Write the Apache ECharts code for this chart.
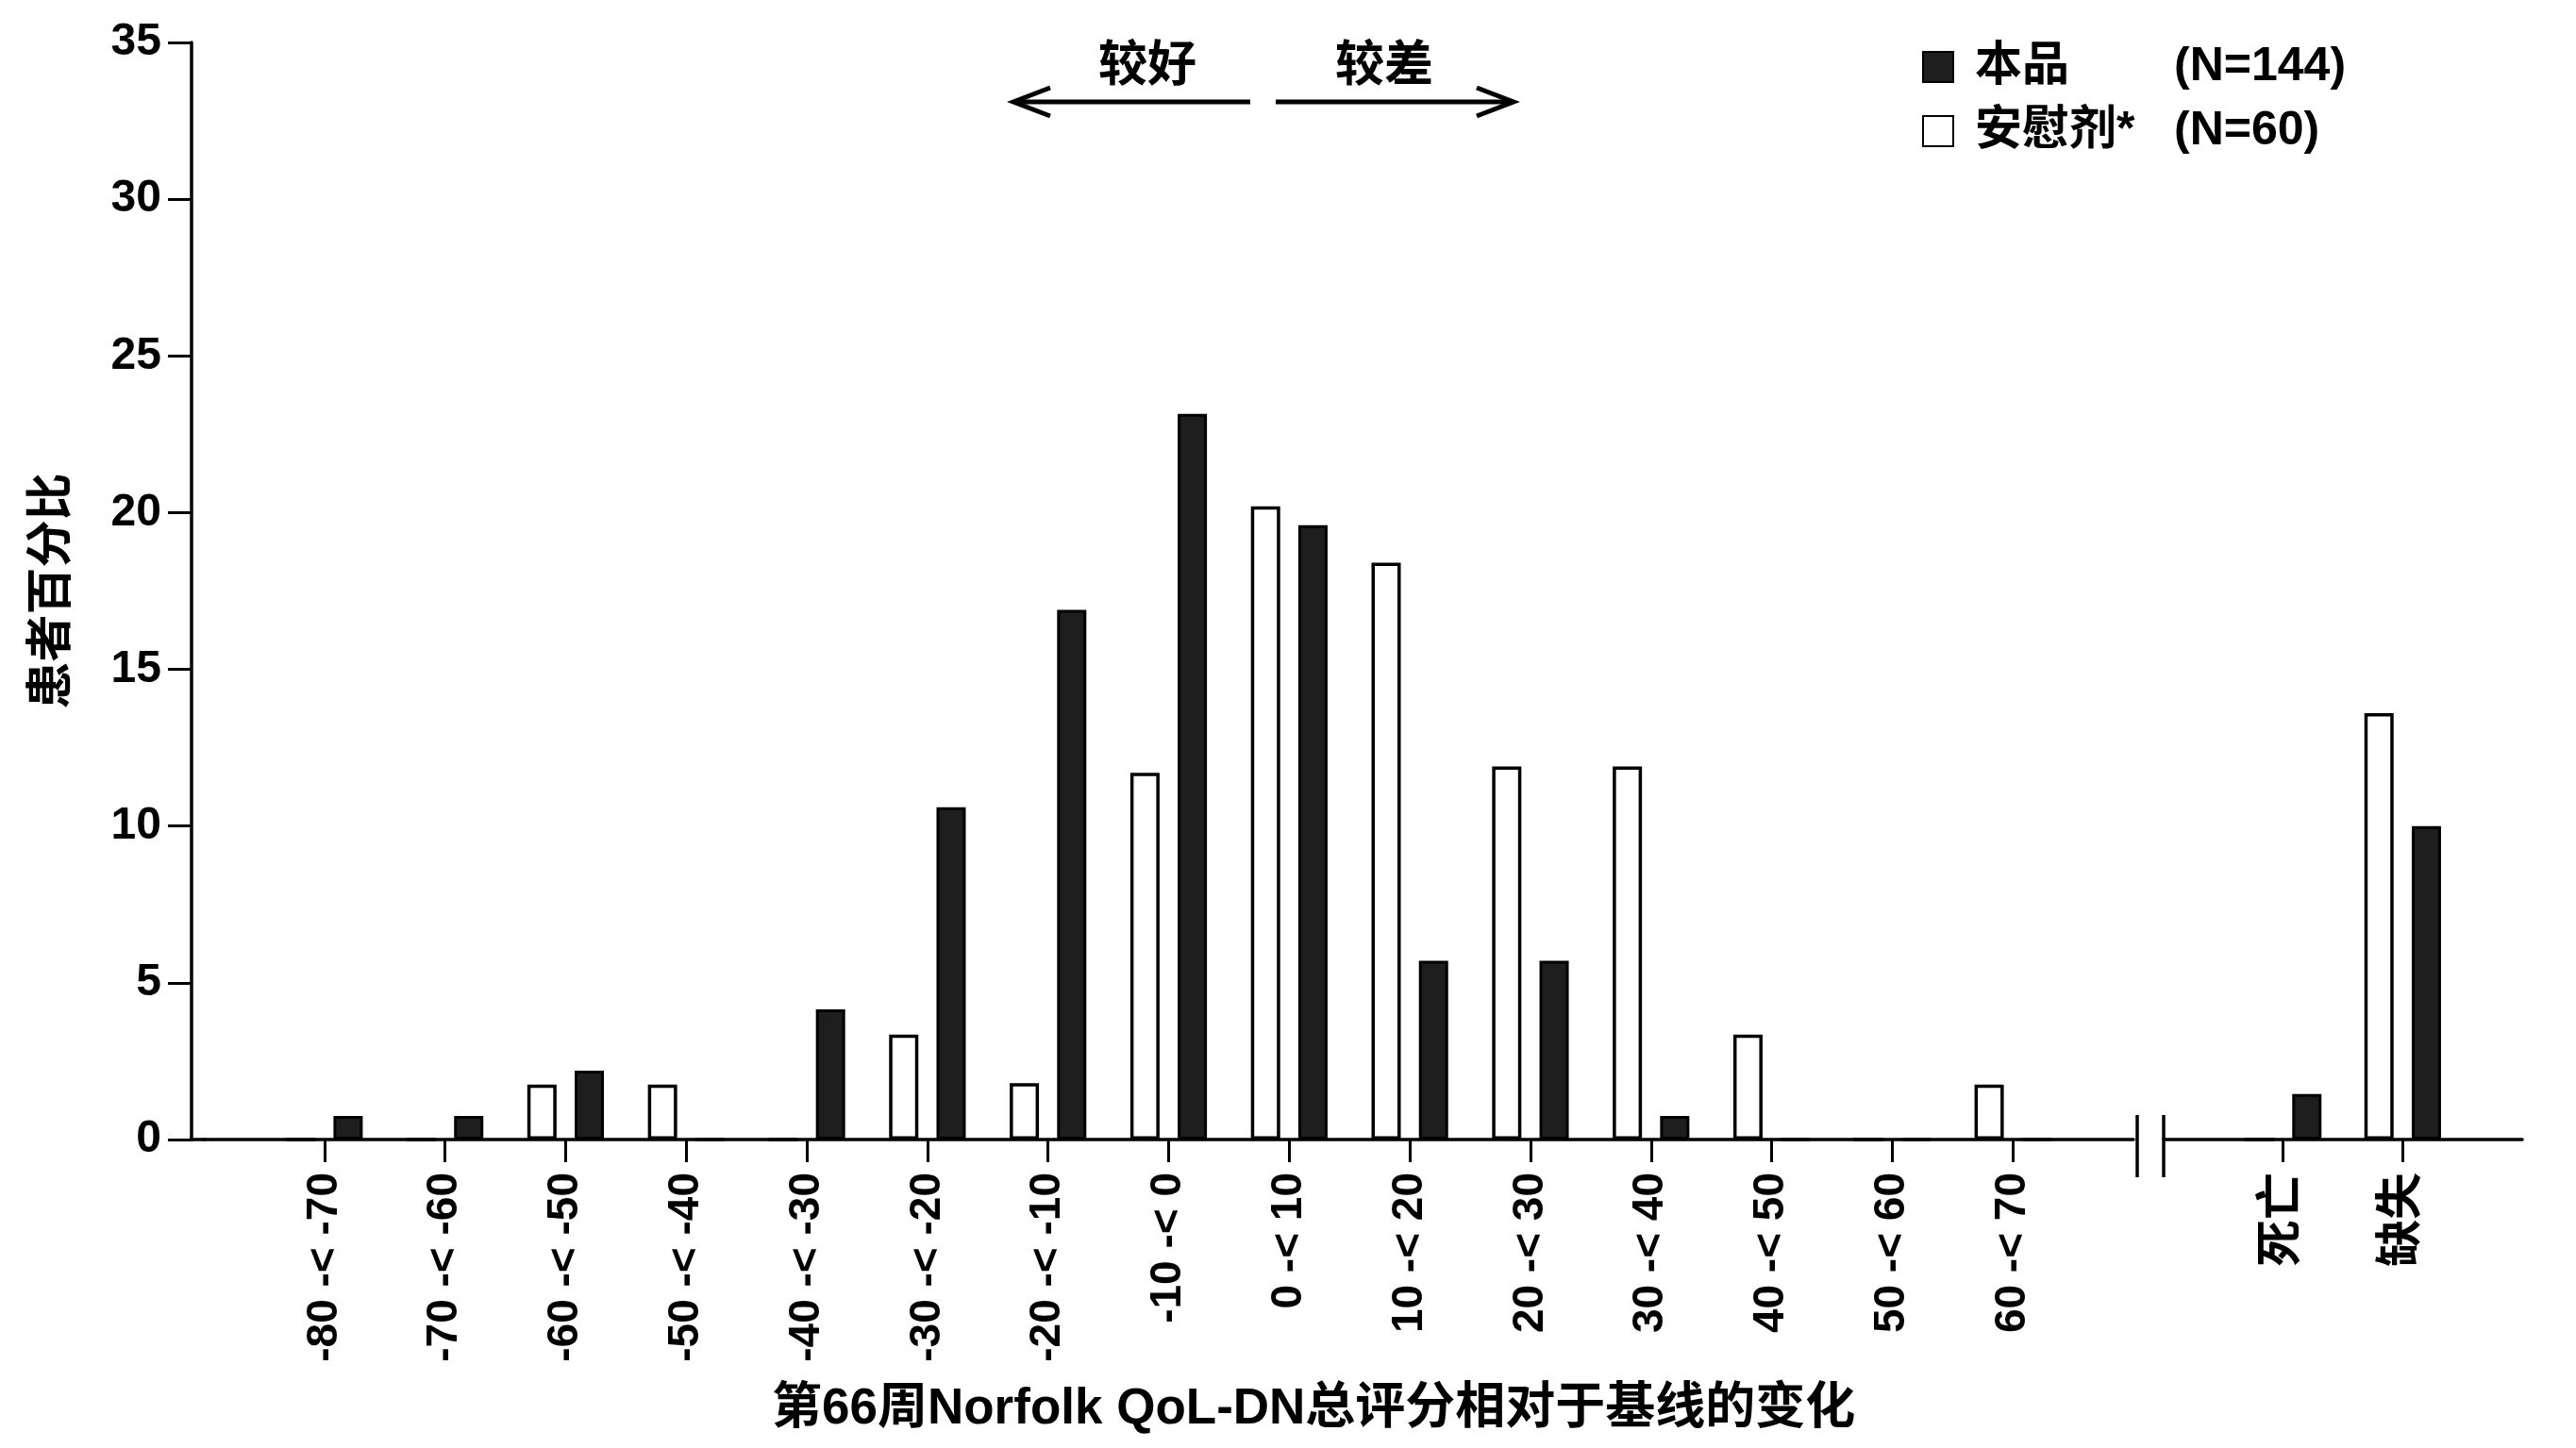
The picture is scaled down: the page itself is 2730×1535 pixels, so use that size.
<!DOCTYPE html>
<html>
<head>
<meta charset="utf-8">
<title>Norfolk QoL-DN 变化分布</title>
<script src="https://cdn.jsdelivr.net/npm/echarts@6/dist/echarts.min.js"></script>
<style>
  html, body { margin: 0; padding: 0; background: #fff; }
  #chart { width: 2730px; height: 1535px; }
</style>
</head>
<body>
<div id="chart"></div>
<script>
// range categories (change from baseline at week 66)
const rangeLabels = [
  '-80 -< -70', '-70 -< -60', '-60 -< -50', '-50 -< -40', '-40 -< -30',
  '-30 -< -20', '-20 -< -10', '-10 -< 0', '0 -< 10', '10 -< 20',
  '20 -< 30', '30 -< 40', '40 -< 50', '50 -< 60', '60 -< 70'
]
const placeboRange = [0, 0, 1.75, 1.75, 0, 3.35, 1.8, 11.7, 20.2, 18.4, 11.9, 11.9, 3.35, 0, 1.75]
const productRange = [0.75, 0.75, 2.2, 0, 4.15, 10.6, 16.9, 23.15, 19.6, 5.7, 5.7, 0.75, 0, 0, 0]

// after the axis break
const outcomeLabels = ['死亡', '缺失']
const placeboOutcome = [0, 13.6]
const productOutcome = [1.45, 10.0]

const yMax = 35
const yStep = 5

const legendCounts = { '本品': '(N=144)', '安慰剂*': '(N=60)' }

const FONT = '"Liberation Sans", "Noto Sans CJK SC", sans-serif'
const INK = '#000'

// blank category at each end so ticks sit on the categories
const padCats = (arr) => ['', ...arr, '']
const padData = (arr) => ['-', ...arr, '-']

const chart = echarts.init(document.getElementById('chart'))

const catAxis = (gridIndex, data, labelSize) => ({
  type: 'category',
  gridIndex,
  data: padCats(data),
  boundaryGap: false,
  axisLine: { show: true, lineStyle: { color: INK, width: 3.5 } },
  axisTick: {
    show: true,
    length: 24,
    interval: (i, v) => v !== '',
    lineStyle: { color: INK, width: 3 }
  },
  axisLabel: {
    interval: 0,
    rotate: 90,
    margin: 35,
    color: INK,
    fontSize: labelSize,
    fontWeight: 'bold',
    fontFamily: FONT
  },
  splitLine: { show: false }
})

const whiteBar = {
  color: '#fff',
  borderColor: INK,
  borderWidth: 3.5
}
const blackBar = {
  color: '#1e1e1e',
  borderColor: INK,
  borderWidth: 3
}

const barCommon = { type: 'bar', barWidth: 31, barGap: '62%' }

const option = {
  animation: false,
  backgroundColor: '#fff',
  title: {
    text: '第66周Norfolk QoL-DN总评分相对于基线的变化',
    left: 818,
    top: 1468,
    padding: 0,
    textStyle: { color: INK, fontSize: 53, fontWeight: 'bold', fontFamily: FONT }
  },
  legend: {
    data: ['本品', '安慰剂*'],
    orient: 'vertical',
    left: 2037,
    top: 46,
    padding: 0,
    itemWidth: 32,
    itemHeight: 32,
    itemGap: 18,
    icon: 'rect',
    selectedMode: false,
    formatter: (name) => `{n|${name}}{c|${legendCounts[name]}}`,
    textStyle: {
      color: INK,
      rich: {
        n: { fontSize: 50, fontWeight: 'bold', fontFamily: FONT, width: 211, padding: [0, 0, 0, 18], lineHeight: 56 },
        c: { fontSize: 50, fontWeight: 'bold', fontFamily: FONT, lineHeight: 56 }
      }
    }
  },
  grid: [
    { left: 216, top: 45, width: 2045, bottom: 327 },
    { left: 2293, top: 45, width: 380, bottom: 327 }
  ],
  xAxis: [
    catAxis(0, rangeLabels, 46),
    catAxis(1, outcomeLabels, 50)
  ],
  yAxis: [
    {
      type: 'value',
      gridIndex: 0,
      min: 0,
      max: yMax,
      interval: yStep,
      offset: 13,
      name: '患者百分比',
      nameLocation: 'middle',
      nameGap: 122,
      nameTextStyle: { color: INK, fontSize: 50, fontWeight: 'bold', fontFamily: FONT },
      axisLine: { show: true, lineStyle: { color: INK, width: 3.5 } },
      axisTick: { show: true, length: 25, lineStyle: { color: INK, width: 3 } },
      axisLabel: { margin: 32, color: INK, fontSize: 48, fontWeight: 'bold', fontFamily: FONT },
      splitLine: { show: false }
    },
    {
      type: 'value',
      gridIndex: 1,
      min: 0,
      max: yMax,
      interval: yStep,
      show: false,
      splitLine: { show: false }
    }
  ],
  series: [
    { ...barCommon, name: '安慰剂*', xAxisIndex: 0, yAxisIndex: 0, itemStyle: whiteBar, data: padData(placeboRange) },
    { ...barCommon, name: '本品', xAxisIndex: 0, yAxisIndex: 0, itemStyle: blackBar, data: padData(productRange) },
    { ...barCommon, name: '安慰剂*', xAxisIndex: 1, yAxisIndex: 1, itemStyle: whiteBar, data: padData(placeboOutcome) },
    { ...barCommon, name: '本品', xAxisIndex: 1, yAxisIndex: 1, itemStyle: blackBar, data: padData(productOutcome) }
  ],
  graphic: [
    // close the corner between the offset y axis and the x axis
    { type: 'line', shape: { x1: 201, y1: 1208, x2: 218, y2: 1208 }, style: { stroke: INK, lineWidth: 3.5 } },
    // axis break marks
    { type: 'line', shape: { x1: 2265, y1: 1182, x2: 2265, y2: 1248 }, style: { stroke: INK, lineWidth: 3.5 } },
    { type: 'line', shape: { x1: 2293, y1: 1182, x2: 2293, y2: 1248 }, style: { stroke: INK, lineWidth: 3.5 } },
    // better / worse arrows
    { type: 'line', shape: { x1: 1074, y1: 108, x2: 1325, y2: 108 }, style: { stroke: INK, lineWidth: 5 } },
    { type: 'polyline', shape: { points: [[1113, 93], [1074, 108], [1113, 123]] }, style: { stroke: INK, fill: null, lineWidth: 5 } },
    { type: 'line', shape: { x1: 1352, y1: 108, x2: 1604, y2: 108 }, style: { stroke: INK, lineWidth: 5 } },
    { type: 'polyline', shape: { points: [[1565, 93], [1604, 108], [1565, 123]] }, style: { stroke: INK, fill: null, lineWidth: 5 } },
    {
      type: 'text', x: 1216, y: 72,
      style: { text: '较好', fill: INK, fontSize: 52, fontWeight: 'bold', fontFamily: FONT, align: 'center', verticalAlign: 'middle' }
    },
    {
      type: 'text', x: 1467, y: 72,
      style: { text: '较差', fill: INK, fontSize: 52, fontWeight: 'bold', fontFamily: FONT, align: 'center', verticalAlign: 'middle' }
    }
  ]
}

chart.setOption(option)

window.addEventListener('resize', () => chart.resize())
</script>
</body>
</html>
